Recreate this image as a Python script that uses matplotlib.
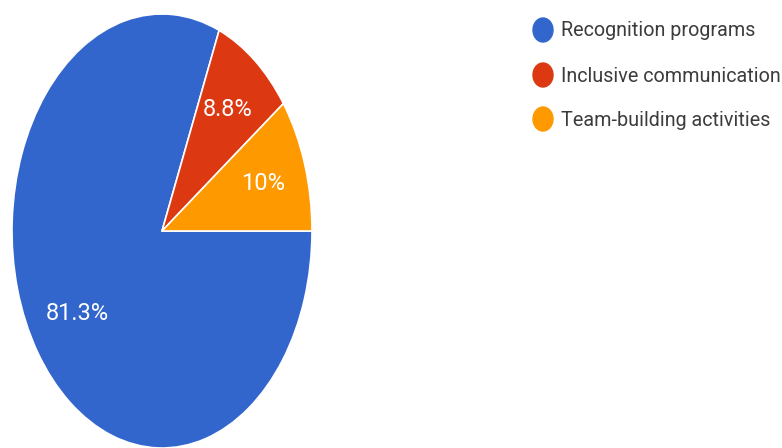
import numpy as np
import matplotlib.pyplot as plt
from matplotlib import font_manager
from matplotlib.patches import Ellipse

categories = ["Recognition programs", "Inclusive communication", "Team-building activities"]
shares = [81.3, 8.8, 10.0]
pct_labels = ["81.3%", "8.8%", "10%"]
colors = ["#3366cc", "#dc3912", "#ff9900"]

installed = {f.name for f in font_manager.fontManager.ttflist}
narrow = "Liberation Sans Narrow" if "Liberation Sans Narrow" in installed else "Roboto"
plt.rcParams['font.family'] = ['Roboto', 'DejaVu Sans']

W, H = 782, 448
fig = plt.figure(figsize=(W / 100, H / 100), dpi=100)

# pie squeezed into a tall ellipse
ax = fig.add_axes([12 / W, 0 / H, 300 / W, 434 / H])
wedges, _ = ax.pie(shares, colors=colors, startangle=0, counterclock=False,
                   wedgeprops=dict(edgecolor="white", linewidth=1.2))
ax.set_aspect('auto')
ax.set_xlim(-1, 1)
ax.set_ylim(-1, 1)
ax.axis('off')

for w, lab in zip(wedges, pct_labels):
    ang = np.deg2rad((w.theta1 + w.theta2) / 2)
    r = 0.68 if w.theta2 - w.theta1 > 180 else 0.71
    ax.text(r * np.cos(ang), r * np.sin(ang), lab, color="white",
            ha="center", va="center", fontsize=17, family=[narrow, 'DejaVu Sans'])

# legend drawn in pixel space
lg = fig.add_axes([0, 0, 1, 1])
lg.set_xlim(0, W)
lg.set_ylim(H, 0)
lg.axis('off')
row_y = [30, 75, 119]
for y, name, c in zip(row_y, categories, colors):
    lg.add_patch(Ellipse((543, y), 20, 24, color=c))
    lg.text(561, y + 1, name, color="#3c3c3c", fontsize=14.2, va="center", ha="left",
            family=[narrow, 'DejaVu Sans'])

fig.savefig("out.png", dpi=100)
